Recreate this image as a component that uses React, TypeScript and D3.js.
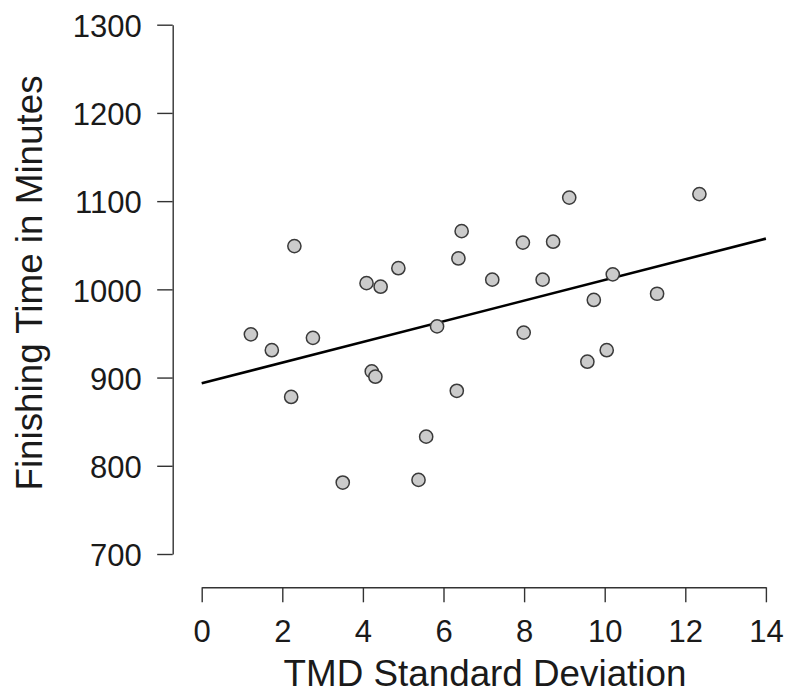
import React, { useRef, useEffect } from "react";
import * as d3 from "d3";

// values
const tmdSd = [
  1.22, 1.74, 2.22, 2.3, 2.76, 3.5, 4.09, 4.44, 4.88, 4.22, 4.31, 5.57, 5.38,
  5.84, 6.33, 6.45, 6.37, 7.21, 7.97, 8.72, 9.12, 8.46, 7.99, 10.2, 9.73,
  10.05, 9.57, 11.3, 12.35,
];
const finishTime = [
  949, 931, 878, 1049, 945, 781, 1007, 1003, 1024, 907, 901, 833, 784, 958,
  885, 1066, 1035, 1011, 1053, 1054, 1104, 1011, 951, 1017, 988, 931, 918, 995,
  1108,
];
const fitX = [0, 14];
const fitY = [893.5, 1057.5];
const xTicks = [0, 2, 4, 6, 8, 10, 12, 14];
const yTicks = [700, 800, 900, 1000, 1100, 1200, 1300];

const W = 786;
const H = 696;
const FONT = "'Liberation Sans', Arial, Helvetica, sans-serif";
const AXIS_COLOR = "#333";
const TEXT_COLOR = "#1a1a1a";

export default function App() {
  const svgRef = useRef<SVGSVGElement | null>(null);

  useEffect(() => {
    if (!svgRef.current) return;
    const svg = d3.select(svgRef.current);
    svg.selectAll("*").remove();

    const x = d3.scaleLinear().domain([0, 14]).range([201.7, 765.9]);
    const y = d3.scaleLinear().domain([700, 1300]).range([554, 24.7]);

    // y axis (R style: offset from plot, ticks outward)
    const yAxisX = 172.7;
    const gy = svg
      .append("g")
      .attr("transform", `translate(${yAxisX},0)`)
      .call(
        d3
          .axisLeft(y)
          .tickValues(yTicks)
          .tickFormat(d3.format("d"))
          .tickSize(15.5)
          .tickSizeOuter(0)
          .tickPadding(15.5)
      );
    gy.select(".domain").attr("stroke", AXIS_COLOR).attr("stroke-width", 1.4);
    gy.selectAll(".tick line").attr("stroke", AXIS_COLOR).attr("stroke-width", 1.4);
    gy.selectAll(".tick text")
      .attr("font-family", FONT)
      .attr("font-size", 31)
      .attr("fill", TEXT_COLOR)
      .attr("dy", "0.38em");

    // x axis
    const xAxisY = 587.3;
    const gx = svg
      .append("g")
      .attr("transform", `translate(0,${xAxisY})`)
      .call(
        d3
          .axisBottom(x)
          .tickValues(xTicks)
          .tickFormat(d3.format("d"))
          .tickSize(15)
          .tickSizeOuter(0)
          .tickPadding(17.5)
      );
    gx.select(".domain").attr("stroke", AXIS_COLOR).attr("stroke-width", 1.4);
    gx.selectAll(".tick line").attr("stroke", AXIS_COLOR).attr("stroke-width", 1.4);
    gx.selectAll(".tick text")
      .attr("font-family", FONT)
      .attr("font-size", 31)
      .attr("fill", TEXT_COLOR);

    // fitted line
    const fit = fitX.map((v, i) => [v, fitY[i]] as [number, number]);
    svg
      .append("path")
      .datum(fit)
      .attr("fill", "none")
      .attr("stroke", "#000")
      .attr("stroke-width", 2.6)
      .attr(
        "d",
        d3
          .line<[number, number]>()
          .x((d) => x(d[0]))
          .y((d) => y(d[1])) as never
      );

    // points
    svg
      .append("g")
      .selectAll("circle")
      .data(tmdSd.map((v, i) => [v, finishTime[i]] as [number, number]))
      .join("circle")
      .attr("cx", (d) => x(d[0]))
      .attr("cy", (d) => y(d[1]))
      .attr("r", 6.6)
      .attr("fill", "#cbcbcb")
      .attr("stroke", "#3a3a3a")
      .attr("stroke-width", 1.5);

    // axis titles
    svg
      .append("text")
      .attr("x", 485)
      .attr("y", 686)
      .attr("text-anchor", "middle")
      .attr("font-family", FONT)
      .attr("font-size", 36.8)
      .attr("fill", TEXT_COLOR)
      .text("TMD Standard Deviation");

    svg
      .append("text")
      .attr("transform", `translate(42,283) rotate(-90)`)
      .attr("text-anchor", "middle")
      .attr("font-family", FONT)
      .attr("font-size", 36.8)
      .attr("fill", TEXT_COLOR)
      .text("Finishing Time in Minutes");
  }, []);

  return (
    <svg
      ref={svgRef}
      width={W}
      height={H}
      style={{ position: "absolute", left: 0, top: 0, background: "#fff" }}
    />
  );
}
